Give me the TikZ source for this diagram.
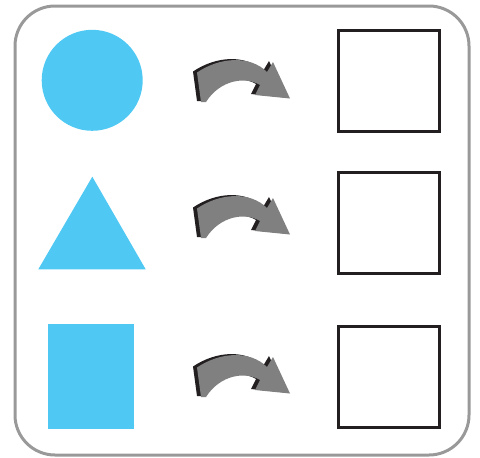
\documentclass[tikz,border=0pt]{standalone}
\definecolor{shapeblue}{RGB}{79,201,243}
\definecolor{framegray}{RGB}{153,153,153}
\definecolor{arrowgray}{RGB}{128,128,128}
\definecolor{inkblack}{RGB}{35,31,32}
\tikzset{
  solid shape/.style={fill=shapeblue,draw=none,inner sep=0pt},
  answer box/.style={draw=inkblack,line width=3pt,minimum size=101pt,inner sep=0pt},
  bent arrow/.pic={
    \fill[inkblack,shift={(-4,-1)}] (-48,-7.5) .. controls (-25,-23) and (5,-25) .. (22,-8) -- (28,-18) -- (45,18.5) -- (10,15) -- (15,5) .. controls (0,-4) and (-25,0) .. (-39,22) -- (-44,22) -- cycle;
    \fill[arrowgray] (-48,-7.5) .. controls (-25,-23) and (5,-25) .. (22,-8) -- (28,-18) -- (45,18.5) -- (10,15) -- (15,5) .. controls (0,-4) and (-25,0) .. (-39,22) -- (-44,22) -- cycle;
  }
}
\begin{document}
\begin{tikzpicture}[x=1pt,y=-1pt]
\useasboundingbox (0,0) rectangle (480,458);
% frame
\draw[framegray,line width=3pt,rounded corners=40pt] (15,6) rectangle (469,455);
% shapes on the left
\node[solid shape,circle,minimum size=101pt] (circ) at (92.2,80.3) {};
\fill[shapeblue] (92.3,176.7) coordinate (tri top) -- (145.7,269.3) -- (38.3,269.3) -- cycle;
\node[solid shape,minimum width=86.3pt,minimum height=105pt] (rect) at (90.9,376.5) {};
% arrows
\pic at (245,80) {bent arrow};
\pic at (245,216) {bent arrow};
\pic at (245,375) {bent arrow};
% empty boxes
\node[answer box] (box1) at (388.5,80.5) {};
\node[answer box] (box2) at (388.5,222.5) {};
\node[answer box] (box3) at (388.5,376.5) {};
\end{tikzpicture}
\end{document}
